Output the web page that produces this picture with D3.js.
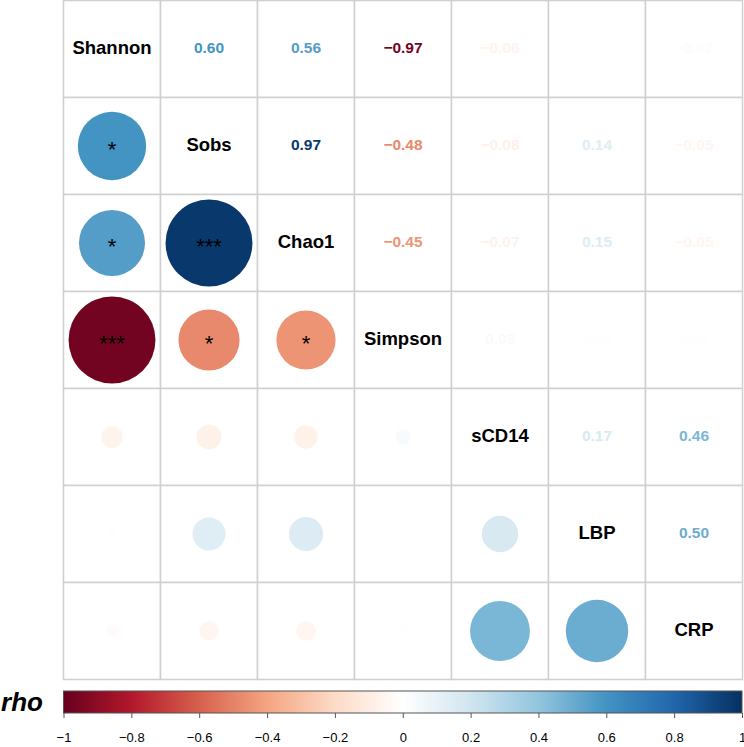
<!DOCTYPE html>
<html><head><meta charset="utf-8">
<script src="https://cdn.jsdelivr.net/npm/d3@7"></script>
<style>body{margin:0;background:#fff}svg{display:block}</style>
</head><body>
<svg id="c" width="744" height="747"></svg>
<script>
const vars = ["Shannon","Sobs","Chao1","Simpson","sCD14","LBP","CRP"];
// correlation values (rho)
const rShannon = [1, 0.60, 0.56, -0.97, -0.06, 0.01, -0.02];
const rSobs    = [0.60, 1, 0.97, -0.48, -0.08, 0.14, -0.05];
const rChao1   = [0.56, 0.97, 1, -0.45, -0.07, 0.15, -0.05];
const rSimpson = [-0.97, -0.48, -0.45, 1, 0.03, 0.004, 0.01];
const rSCD14   = [-0.06, -0.08, -0.07, 0.03, 1, 0.17, 0.46];
const rLBP     = [0.01, 0.14, 0.15, 0.004, 0.17, 1, 0.50];
const rCRP     = [-0.02, -0.05, -0.05, 0.01, 0.46, 0.50, 1];
const matrix = [rShannon, rSobs, rChao1, rSimpson, rSCD14, rLBP, rCRP];
// significance stars (lower triangle)
const sigPairs = [["Sobs","Shannon","*"],["Chao1","Shannon","*"],["Chao1","Sobs","***"],
                  ["Simpson","Shannon","***"],["Simpson","Sobs","*"],["Simpson","Chao1","*"]];
const colorStops = ["#67001F","#B2182B","#D6604D","#F4A582","#FDDBC7","#FFFFFF","#D1E5F0","#92C5DE","#4393C3","#2166AC","#053061"];
const tickValues = [-1,-0.8,-0.6,-0.4,-0.2,0,0.2,0.4,0.6,0.8,1];

const svg = d3.select("#c");
const FONT = "'Liberation Sans', Arial, Helvetica, sans-serif";
const gx0 = 63.5, gx1 = 742.5, gy0 = 0.5, gy1 = 679.5;
const x = d3.scaleBand().domain(vars).range([gx0, gx1]);
const y = d3.scaleBand().domain(vars).range([gy0, gy1]);
const cell = x.bandwidth();
const color = d3.scaleLinear().domain(d3.range(11).map(i => -1 + i*0.2)).range(colorStops).clamp(true);
const rad = d3.scaleSqrt().domain([0,1]).range([0, cell*0.455]);

const cells = [];
vars.forEach((rv,i) => vars.forEach((cv,j) => cells.push({row: rv, col: cv, i, j, v: matrix[i][j]})));

const g = svg.append("g");
g.selectAll("rect.cell").data(cells).join("rect")
  .attr("x", d => x(d.col)).attr("y", d => y(d.row))
  .attr("width", cell).attr("height", cell)
  .attr("fill", "#fff").attr("stroke", "#cfcfcf").attr("stroke-width", 1.5);

g.selectAll("circle").data(cells.filter(d => d.i > d.j)).join("circle")
  .attr("cx", d => x(d.col) + cell/2).attr("cy", d => y(d.row) + cell/2)
  .attr("r", d => rad(Math.abs(d.v))).attr("fill", d => color(d.v));

const fmt = v => { const s = Math.abs(v).toFixed(2); return (v < 0 && s !== "0.00" ? "\u2212" : "") + s; };
g.selectAll("text.num").data(cells.filter(d => d.i < d.j)).join("text")
  .attr("x", d => x(d.col) + cell/2).attr("y", d => y(d.row) + cell/2 + 3.5)
  .attr("text-anchor", "middle").attr("font-family", FONT).attr("font-weight", "bold")
  .attr("font-size", 15.5).attr("fill", d => color(d.v)).text(d => fmt(d.v));

g.selectAll("text.lab").data(vars).join("text")
  .attr("x", d => x(d) + cell/2).attr("y", d => y(d) + cell/2 + 4.5)
  .attr("text-anchor", "middle").attr("font-family", FONT).attr("font-weight", "bold")
  .attr("font-size", 18.5).attr("fill", "#000").text(d => d);

g.selectAll("text.sig").data(sigPairs).join("text")
  .attr("x", d => x(d[1]) + cell/2).attr("y", d => y(d[0]) + cell/2 + 11)
  .attr("text-anchor", "middle").attr("font-family", FONT)
  .attr("font-size", 22).attr("fill", "#000").text(d => d[2]);

const cbY = 691, cbH = 22;
const cbx = d3.scaleLinear().domain([-1,1]).range([gx0, gx1 - 0.5]);
const defs = svg.append("defs");
const grad = defs.append("linearGradient").attr("id","cb");
colorStops.forEach((c,i) => grad.append("stop").attr("offset", (i*10)+"%").attr("stop-color", c));
svg.append("rect").attr("x", cbx(-1)).attr("y", cbY).attr("width", cbx(1)-cbx(-1)).attr("height", cbH)
  .attr("fill","url(#cb)").attr("stroke","#555").attr("stroke-width",1);
const axis = d3.axisBottom(cbx).tickValues(tickValues).tickSize(5).tickSizeOuter(0)
  .tickFormat(d => d === 0 ? "0" : (d < 0 ? "\u2212" : "") + d3.format("")(Math.abs(d)));
const ax = svg.append("g").attr("transform", `translate(0,${cbY + cbH})`).call(axis);
ax.select(".domain").remove();
ax.selectAll(".tick line").attr("stroke","#555");
ax.selectAll(".tick text").attr("font-family", FONT).attr("font-size", 13).attr("fill","#000").attr("dy", "1.6em");

svg.append("text").attr("x", 43).attr("y", 711).attr("text-anchor","end")
  .attr("font-family", FONT).attr("font-weight","bold").attr("font-style","italic")
  .attr("font-size", 26).attr("fill","#000").text("rho");
</script>
</body></html>
